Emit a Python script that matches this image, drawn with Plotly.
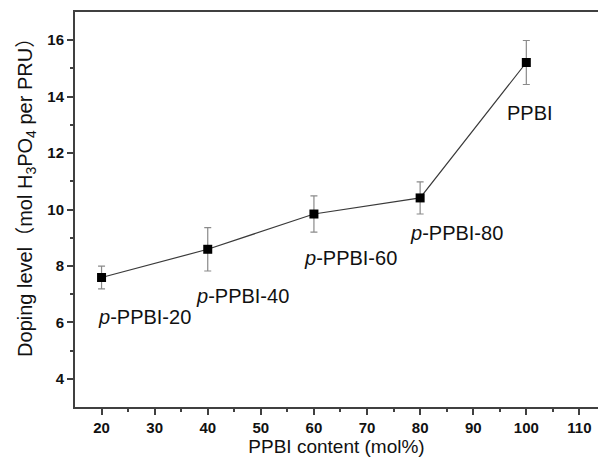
import plotly.graph_objects as go

content = [20, 40, 60, 80, 100]
doping = [7.59, 8.59, 9.84, 10.41, 15.21]
err = [0.40, 0.77, 0.64, 0.57, 0.78]
labels = ["<i>p</i>-PPBI-20", "<i>p</i>-PPBI-40", "<i>p</i>-PPBI-60", "<i>p</i>-PPBI-80", "PPBI"]
label_x = [28.1, 46.5, 66.9, 86.9, 100.7]
label_y = [6.19, 6.94, 8.28, 9.17, 13.42]

FONT = "Liberation Sans, Arial, Noto Sans CJK SC, sans-serif"
AX = "#404040"

fig = go.Figure()
fig.add_trace(go.Scatter(
    x=content, y=doping, mode="lines+markers",
    line=dict(color="#3a3a3a", width=1.2),
    marker=dict(symbol="square", size=9, color="black"),
    error_y=dict(type="data", array=err, visible=True, color="#8a8a8a", thickness=1.2, width=3.5),
    showlegend=False,
))

for t, x, y in zip(labels, label_x, label_y):
    fig.add_annotation(x=x, y=y, text=t, showarrow=False, xanchor="center", yanchor="middle",
                       font=dict(family=FONT, size=20, color="#111"))

# y-axis title as an annotation (offset upward like the original)
fig.add_annotation(
    xref="paper", yref="paper", x=0, y=0.542, xshift=-48,
    text="Doping level（mol H<sub>3</sub>PO<sub>4</sub> per PRU）",
    textangle=-90, showarrow=False, xanchor="center", yanchor="middle",
    font=dict(family=FONT, size=20, color="#111"),
)

fig.update_layout(
    width=598, height=461,
    margin=dict(l=75, r=0, t=12, b=54, autoexpand=False),
    paper_bgcolor="white", plot_bgcolor="white",
    font=dict(family=FONT, color="#111"),
)
fig.update_xaxes(
    range=[15, 113.5], tickmode="array", tickvals=list(range(20, 111, 10)),
    ticks="outside", ticklen=6, tickwidth=1.5, tickcolor=AX,
    minor=dict(tickvals=list(range(25, 111, 10)), ticks="outside", ticklen=3, tickwidth=1.5, tickcolor=AX),
    showline=True, linecolor=AX, linewidth=2, mirror=True,
    showgrid=False, zeroline=False, automargin=False,
    tickfont=dict(family=FONT, size=15, color="#111", weight="bold"),
    title=dict(text="PPBI content (mol%)", font=dict(family=FONT, size=19, color="#111"), standoff=5),
)
fig.update_yaxes(
    range=[3, 17], tickmode="array", tickvals=[4, 6, 8, 10, 12, 14, 16],
    ticks="outside", ticklen=6, tickwidth=1.5, tickcolor=AX,
    minor=dict(tickvals=[5, 7, 9, 11, 13, 15], ticks="outside", ticklen=3, tickwidth=1.5, tickcolor=AX),
    showline=True, linecolor=AX, linewidth=2, mirror=False,
    showgrid=False, zeroline=False, automargin=False,
    tickfont=dict(family=FONT, size=15, color="#111", weight="bold"),
)

fig.write_html("out.html", config={"displayModeBar": False},
               post_script="document.body.style.margin='0px';")
